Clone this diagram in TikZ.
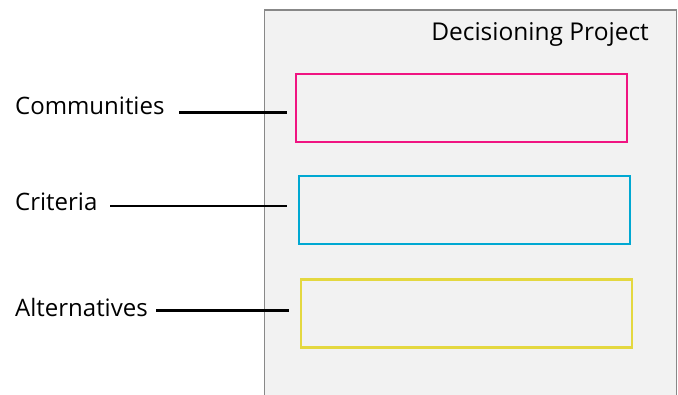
\documentclass[tikz,border=0pt]{standalone}
\usepackage{fontspec}
\setmainfont{Open Sans}
\usetikzlibrary{positioning}

\definecolor{panelfill}{RGB}{242,242,242}
\definecolor{panelline}{RGB}{136,136,136}
\definecolor{commpink}{RGB}{240,20,130}
\definecolor{critcyan}{RGB}{0,168,210}
\definecolor{altyellow}{RGB}{228,216,64}

\tikzset{
  lbl/.style={inner sep=0pt, anchor=base west, font=\fontsize{24}{28}\selectfont},
  slot/.style={draw, line width=2.4pt, minimum width=331pt, minimum height=68pt, inner sep=0pt},
  lead/.style={line width=2.6pt, black}
}

\begin{document}
\begin{tikzpicture}[x=1pt, y=-1pt]
  \useasboundingbox (0,0) rectangle (678,394);
  \filldraw[fill=panelfill, draw=panelline, line width=1.2pt] (264.5,10) rectangle (676.5,400);

  \node[anchor=base east, inner sep=0pt, font=\fontsize{24.5}{28}\selectfont] (title) at (649,40) {Decisioning Project};

  \node[slot, draw=commpink, anchor=north west] (comm box) at (294.5,72.5) {};
  \node[slot, draw=critcyan, below=32pt of comm box.south west, anchor=north west, xshift=3pt] (crit box) {};
  \node[slot, draw=altyellow, below=33pt of crit box.south west, anchor=north west, xshift=2pt] (alt box) {};

  \node[lbl] (comm) at (15,114) {Communities};
  \node[lbl] (crit) at (15,210) {Criteria};
  \node[lbl] (alt) at (15,316) {Alternatives};

  \coordinate (comm in) at (179,112.5);
  \coordinate (comm out) at (287,112.5);
  \coordinate (crit in) at (110,206);
  \coordinate (crit out) at (287,206);
  \coordinate (alt in) at (156,310.5);
  \coordinate (alt out) at (289,310.5);

  \draw[lead] (comm in) -- (comm out);
  \draw[lead] (crit in) -- (crit out);
  \draw[lead] (alt in) -- (alt out);
\end{tikzpicture}
\end{document}
